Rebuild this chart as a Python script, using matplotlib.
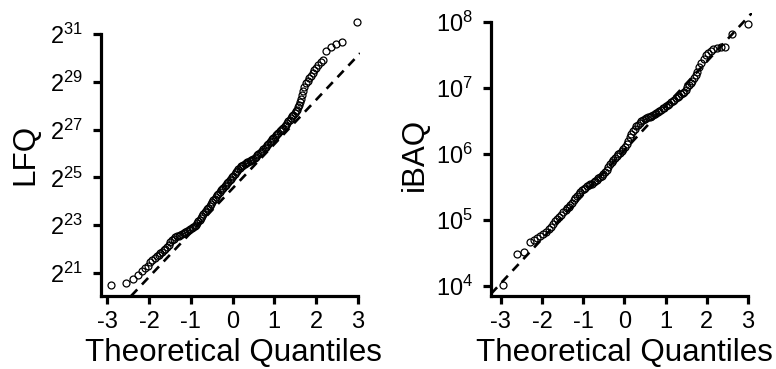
import matplotlib.pyplot as plt

plt.rcParams['font.family'] = ['Liberation Sans', 'DejaVu Sans']
plt.rcParams['mathtext.fontset'] = 'custom'
plt.rcParams['mathtext.rm'] = 'Liberation Sans'

# LFQ panel: theoretical quantile / log2(LFQ)
lfq_q = [-2.91, -2.55, -2.38, -2.26, -2.18, -2.10, -2.03, -1.97, -1.92, -1.87,
         -1.82, -1.77, -1.73, -1.69, -1.65, -1.61, -1.57, -1.53, -1.49, -1.45,
         -1.41, -1.37, -1.33, -1.29, -1.25, -1.21, -1.17, -1.13, -1.09, -1.05,
         -1.01, -0.97, -0.94, -0.91, -0.88, -0.85, -0.82, -0.79, -0.76, -0.73,
         -0.70, -0.67, -0.64, -0.61, -0.58, -0.55, -0.52, -0.49, -0.46, -0.43,
         -0.40, -0.37, -0.34, -0.31, -0.28, -0.25, -0.22, -0.19, -0.16, -0.13,
         -0.10, -0.07, -0.04, -0.01, 0.02, 0.05, 0.08, 0.11, 0.14, 0.17,
         0.20, 0.23, 0.26, 0.29, 0.32, 0.35, 0.38, 0.41, 0.44, 0.47,
         0.50, 0.53, 0.56, 0.59, 0.62, 0.65, 0.68, 0.71, 0.74, 0.77,
         0.80, 0.83, 0.86, 0.89, 0.92, 0.95, 0.98, 1.01, 1.04, 1.07,
         1.10, 1.13, 1.16, 1.19, 1.22, 1.25, 1.28, 1.31, 1.34, 1.37,
         1.40, 1.43, 1.46, 1.49, 1.52, 1.55, 1.58, 1.60, 1.62, 1.64,
         1.66, 1.68, 1.72, 1.76, 1.80, 1.84, 1.88, 1.92, 1.96, 2.01,
         2.06, 2.11, 2.18, 2.24, 2.36, 2.47, 2.62, 2.99]
lfq_log2 = [20.49, 20.57, 20.74, 20.92, 21.08, 21.20, 21.30, 21.45, 21.56, 21.64,
            21.70, 21.76, 21.83, 21.89, 21.95, 22.02, 22.10, 22.19, 22.30, 22.38,
            22.44, 22.49, 22.53, 22.57, 22.61, 22.65, 22.69, 22.73, 22.77, 22.81,
            22.85, 22.89, 22.93, 22.98, 23.03, 23.09, 23.16, 23.24, 23.32, 23.40,
            23.47, 23.54, 23.60, 23.66, 23.73, 23.80, 23.88, 23.96, 24.04, 24.11,
            24.18, 24.25, 24.32, 24.39, 24.46, 24.52, 24.58, 24.64, 24.70, 24.76,
            24.82, 24.88, 24.94, 25.00, 25.07, 25.14, 25.21, 25.28, 25.35, 25.41,
            25.46, 25.50, 25.54, 25.57, 25.60, 25.63, 25.66, 25.69, 25.72, 25.75,
            25.79, 25.83, 25.87, 25.92, 25.97, 26.02, 26.07, 26.12, 26.17, 26.23,
            26.29, 26.35, 26.41, 26.47, 26.53, 26.59, 26.65, 26.71, 26.77, 26.83,
            26.88, 26.93, 26.98, 27.03, 27.09, 27.15, 27.21, 27.28, 27.35, 27.42,
            27.49, 27.56, 27.62, 27.69, 27.76, 27.84, 27.94, 28.04, 28.14, 28.30,
            28.45, 28.62, 28.80, 28.94, 29.05, 29.15, 29.24, 29.36, 29.49, 29.60,
            29.72, 29.84, 29.91, 30.30, 30.47, 30.57, 30.65, 31.49]

# iBAQ panel: theoretical quantile / log10(iBAQ)
ibaq_q = [-2.95, -2.60, -2.45, -2.30, -2.20, -2.12, -2.04, -1.97, -1.90, -1.84,
          -1.78, -1.73, -1.68, -1.63, -1.58, -1.53, -1.48, -1.43, -1.39, -1.35,
          -1.31, -1.27, -1.23, -1.19, -1.15, -1.11, -1.07, -1.03, -0.99, -0.95,
          -0.91, -0.87, -0.83, -0.79, -0.75, -0.71, -0.67, -0.63, -0.59, -0.55,
          -0.51, -0.47, -0.43, -0.39, -0.35, -0.31, -0.27, -0.23, -0.19, -0.15,
          -0.11, -0.07, -0.03, 0.01, 0.05, 0.09, 0.13, 0.17, 0.21, 0.25,
          0.29, 0.33, 0.37, 0.41, 0.45, 0.49, 0.53, 0.57, 0.61, 0.65,
          0.69, 0.73, 0.77, 0.81, 0.85, 0.89, 0.93, 0.97, 1.01, 1.05,
          1.09, 1.13, 1.17, 1.21, 1.25, 1.29, 1.33, 1.37, 1.41, 1.45,
          1.49, 1.53, 1.57, 1.61, 1.65, 1.69, 1.73, 1.77, 1.81, 1.86,
          1.92, 1.98, 2.04, 2.10, 2.16, 2.24, 2.34, 2.44, 2.60, 3.00]
ibaq_log10 = [4.02, 4.48, 4.51, 4.66, 4.69, 4.72, 4.76, 4.79, 4.82, 4.86,
              4.90, 4.94, 4.98, 5.01, 5.04, 5.08, 5.12, 5.15, 5.18, 5.20,
              5.23, 5.26, 5.30, 5.33, 5.36, 5.39, 5.42, 5.45, 5.47, 5.49,
              5.51, 5.53, 5.54, 5.55, 5.57, 5.59, 5.61, 5.63, 5.65, 5.67,
              5.70, 5.73, 5.76, 5.80, 5.84, 5.88, 5.91, 5.94, 5.97, 6.00,
              6.02, 6.05, 6.08, 6.11, 6.15, 6.20, 6.25, 6.30, 6.34, 6.38,
              6.42, 6.44, 6.47, 6.49, 6.51, 6.53, 6.54, 6.55, 6.56, 6.57,
              6.59, 6.60, 6.62, 6.64, 6.65, 6.67, 6.69, 6.70, 6.72, 6.74,
              6.76, 6.78, 6.80, 6.82, 6.84, 6.86, 6.88, 6.90, 6.92, 6.94,
              6.97, 7.01, 7.04, 7.07, 7.10, 7.15, 7.20, 7.24, 7.31, 7.38,
              7.44, 7.49, 7.53, 7.56, 7.58, 7.60, 7.62, 7.61, 7.81, 7.97]

# reference lines (intercept, slope) of the qq lines
lfq_line = (24.54, 1.85)
ibaq_line = (6.055, 0.671)

x_ticks = [-3, -2, -1, 0, 1, 2, 3]
lfq_ticks = [21, 23, 25, 27, 29, 31]
ibaq_ticks = [4, 5, 6, 7, 8]


def qq_panel(ax, q, vals, line, yticks, base, ylabel, xlim, ylim):
    ax.plot(q, vals, linestyle='none', marker='o', markersize=5,
            markerfacecolor='none', markeredgecolor='black',
            markeredgewidth=0.9, clip_on=False)
    ax.axline((0, line[0]), slope=line[1], color='black', lw=1.9,
              dashes=(3.4, 2.6))
    ax.set_xlim(*xlim)
    ax.set_ylim(*ylim)
    ax.set_xticks(x_ticks)
    ax.set_xticklabels([str(t) for t in x_ticks])
    ax.set_yticks(yticks)
    ax.set_yticklabels([r'$\mathregular{%d^{%d}}$' % (base, t) for t in yticks])
    for side in ['top', 'right']:
        ax.spines[side].set_visible(False)
    for side in ['left', 'bottom']:
        ax.spines[side].set_linewidth(2.3)
    ax.spines['left'].set_bounds(ylim[0], yticks[-1])
    ax.spines['bottom'].set_bounds(xlim[0], x_ticks[-1])
    ax.tick_params(direction='out', length=6, width=2.3, labelsize=17,
                   color='black')
    ax.tick_params(axis='x', pad=5)
    ax.tick_params(axis='y', pad=7)
    ax.set_xlabel('Theoretical Quantiles', fontsize=22.6)
    ax.xaxis.set_label_coords(0.51, -0.15)
    ax.set_ylabel(ylabel, fontsize=22.6)
    ax.yaxis.set_label_coords(-0.235, 0.5)


fig = plt.figure(figsize=(7.76, 3.69), dpi=100)
ax1 = fig.add_axes([0.1302, 0.1978, 0.3338, 0.7669])
ax2 = fig.add_axes([0.6327, 0.1978, 0.3363, 0.7669])

qq_panel(ax1, lfq_q, lfq_log2, lfq_line, lfq_ticks, 2, 'LFQ',
         (-3.153, 3.058), (20.04, 31.88))
qq_panel(ax2, ibaq_q, ibaq_log10, ibaq_line, ibaq_ticks, 10, 'iBAQ',
         (-3.24, 3.095), (3.849, 8.13))

fig.savefig('out.png', dpi=100)
